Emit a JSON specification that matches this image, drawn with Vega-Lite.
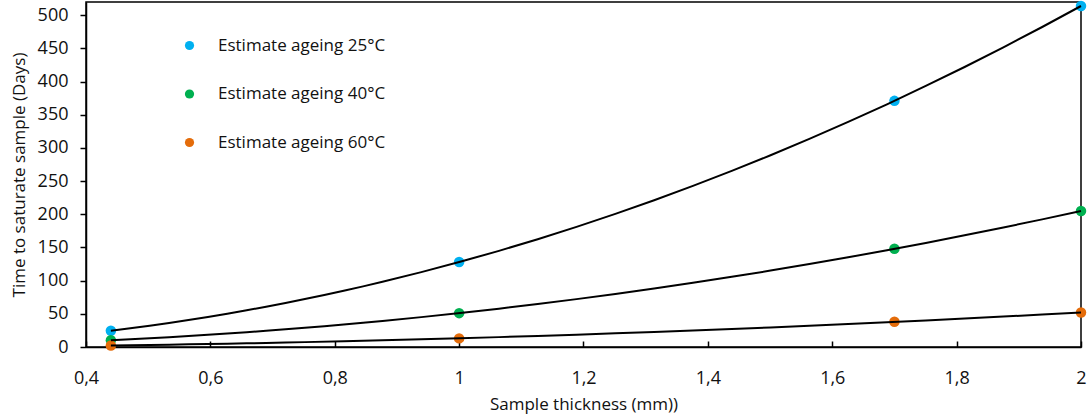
{
  "$schema": "https://vega.github.io/schema/vega-lite/v6.json",
  "width": 995,
  "height": 345,
  "autosize": {"type": "none"},
  "padding": {"left": 86, "top": 2, "right": 6, "bottom": 72},
  "background": "white",
  "config": {
    "font": "Open Sans",
    "view": {"stroke": "black", "strokeWidth": 1.5},
    "axis": {"grid": false, "domainColor": "black", "domainWidth": 1.5, "tickColor": "black", "tickWidth": 1.5, "labelColor": "#111", "titleColor": "#111", "labelFont": "Open Sans", "titleFont": "Open Sans", "titleFontWeight": "normal", "labelFontSize": 18, "titleFontSize": 17, "labelOverlap": false}
  },
  "data": {
    "values": [
      {"thickness": 0.44, "days": 24.6, "series": "Estimate ageing 25°C"},
      {"thickness": 1.0, "days": 128, "series": "Estimate ageing 25°C"},
      {"thickness": 1.7, "days": 371, "series": "Estimate ageing 25°C"},
      {"thickness": 2.0, "days": 514, "series": "Estimate ageing 25°C"},
      {"thickness": 0.44, "days": 10.2, "series": "Estimate ageing 40°C"},
      {"thickness": 1.0, "days": 51, "series": "Estimate ageing 40°C"},
      {"thickness": 1.7, "days": 148, "series": "Estimate ageing 40°C"},
      {"thickness": 2.0, "days": 205, "series": "Estimate ageing 40°C"},
      {"thickness": 0.44, "days": 2.3, "series": "Estimate ageing 60°C"},
      {"thickness": 1.0, "days": 13, "series": "Estimate ageing 60°C"},
      {"thickness": 1.7, "days": 38, "series": "Estimate ageing 60°C"},
      {"thickness": 2.0, "days": 52, "series": "Estimate ageing 60°C"}
    ]
  },
  "encoding": {
    "x": {"field": "thickness", "type": "quantitative", "scale": {"domain": [0.4, 2], "nice": false},
      "axis": {"title": "Sample thickness (mm))", "values": [0.4, 0.6, 0.8, 1, 1.2, 1.4, 1.6, 1.8, 2], "tickSize": -6, "labelPadding": 28, "titlePadding": 9,
        "labelExpr": "replace(toString(round(datum.value*10)/10), '.', ',')", "labelFlush": false}},
    "y": {"field": "days", "type": "quantitative", "scale": {"domain": [0, 520], "nice": false},
      "axis": {"title": "Time to saturate sample (Days)", "values": [0, 50, 100, 150, 200, 250, 300, 350, 400, 450, 500], "labelOverlap": false, "labelBound": false, "tickSize": 6, "labelPadding": 12, "titlePadding": 9}}
  },
  "layer": [
    {
      "mark": {"type": "point", "filled": true, "opacity": 1, "size": 110},
      "encoding": {
        "color": {"field": "series", "type": "nominal",
          "scale": {"domain": ["Estimate ageing 25°C", "Estimate ageing 40°C", "Estimate ageing 60°C"], "range": ["#00B0F0", "#00B050", "#E46C0A"]},
          "legend": {"title": null, "orient": "none", "legendX": 95, "legendY": 35, "symbolType": "circle", "symbolSize": 85, "symbolOpacity": 1, "labelFontSize": 17, "labelFont": "Open Sans", "labelColor": "#111", "labelOffset": 20, "labelLimit": 400, "rowPadding": 30.5, "padding": 0}}
      }
    },
    {
      "transform": [
        {"regression": "days", "on": "thickness", "groupby": ["series"], "method": "poly", "order": 2, "extent": [0.44, 2]}
      ],
      "mark": {"type": "line", "color": "black", "strokeWidth": 2},
      "encoding": {
        "detail": {"field": "series", "type": "nominal"}
      }
    }
  ]
}
